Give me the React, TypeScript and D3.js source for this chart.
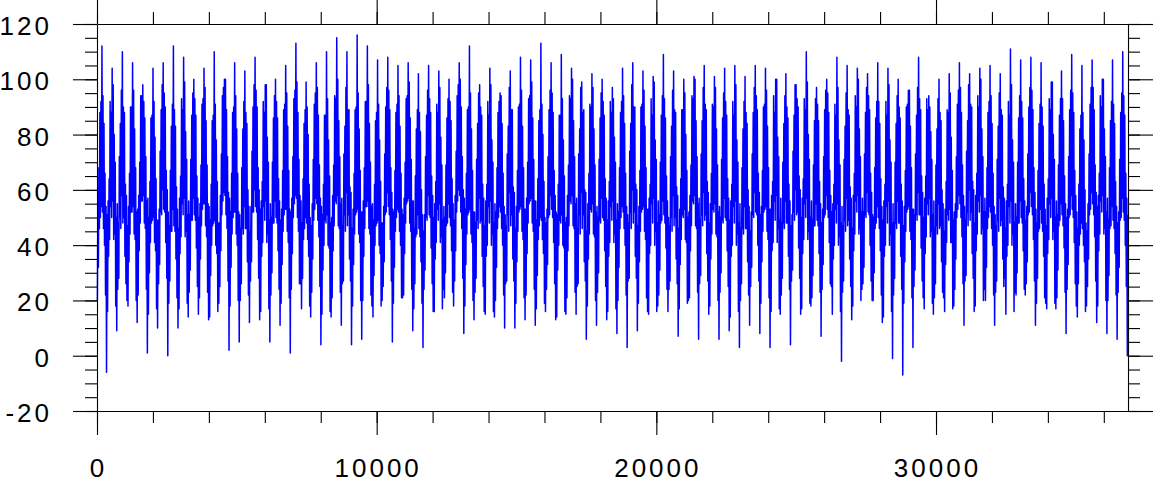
import React, { useEffect, useRef } from 'react';
import * as d3 from 'd3';

// 20 readings a year (day of year in the name), 101 years
const day13 = [20,16,24,18,22,15,26,19,17,23, 21,14,25,18,20,27,16,22,19,24, 17,23,15,21,26,18,20,14,25,19, 22,17,24,16,21,27,18,23,15,20, 26,19,22,17,24,14,21,25,18,23, 16,20,27,19,15,22,24,17,21,26, 18,23,14,20,25,19,16,22,27,17, 21,24,15,23,18,26,20,14,22,19, 25,17,21,16,24,27,18,20,23,15, 22,26,19,17,21,24,14,25,18,20, 23];
const day31 = [52,56,48,54,58,50,53,47,57,51, 55,49,58,52,46,54,56,50,53,57, 48,55,51,58,47,53,56,49,54,52, 57,46,51,55,50,58,53,48,56,52, 47,54,57,49,53,51,58,46,55,50, 56,52,48,54,57,51,47,53,58,49, 55,50,56,46,52,54,58,48,51,57, 49,53,55,47,58,52,50,56,48,54, 51,57,46,53,55,49,58,52,47,56, 50,54,48,57,51,53,46,55,58,49, 52];
const day50 = [32,36,28,34,38,30,33,27,37,31, 35,29,38,32,26,34,36,30,33,37, 28,35,31,38,27,33,36,29,34,32, 37,26,31,35,30,38,33,28,36,32, 27,34,37,29,33,31,38,26,35,30, 36,32,28,34,37,31,27,33,38,29, 35,30,36,26,32,34,38,28,31,37, 29,33,35,27,38,32,30,36,28,34, 31,37,26,33,35,29,38,32,27,36, 30,34,28,37,31,33,26,35,38,29, 32];
const day68 = [68,64,72,66,70,63,74,67,65,71, 69,62,73,66,68,74,63,70,67,72, 64,71,62,69,73,66,68,62,73,67, 70,65,72,63,69,74,66,71,62,68, 73,67,70,64,72,62,69,73,66,71, 63,68,74,67,62,70,72,64,69,73, 66,71,62,68,73,67,63,70,74,64, 69,72,62,71,66,73,68,62,70,67, 73,65,69,63,72,74,66,68,71,62, 70,73,67,64,69,72,62,73,66,68, 71];
const day86 = [46,42,50,44,48,41,52,45,43,49, 47,40,51,44,46,52,41,48,45,50, 42,49,40,47,51,44,46,40,51,45, 48,43,50,41,47,52,44,49,40,46, 51,45,48,42,50,40,47,51,44,49, 41,46,52,45,40,48,50,42,47,51, 44,49,40,46,51,45,41,48,52,42, 47,50,40,49,44,51,46,40,48,45, 51,43,47,41,50,52,44,46,49,40, 48,51,45,42,47,50,40,51,44,46, 49];
const day104 = [88,92,84,90,94,86,89,83,93,87, 91,85,94,88,82,90,92,86,89,93, 84,91,87,94,83,89,92,85,90,88, 93,82,87,91,86,94,89,84,92,88, 83,90,93,85,89,87,94,82,91,86, 92,88,84,90,93,87,83,89,94,85, 91,86,92,82,88,90,94,84,87,93, 85,89,91,83,94,88,86,92,84,90, 87,93,82,89,91,85,94,88,83,92, 86,90,84,93,87,89,82,91,94,85, 88];
const day122 = [50,54,46,52,56,48,51,45,55,49, 53,47,56,50,44,52,54,48,51,55, 46,53,49,56,45,51,54,47,52,50, 55,44,49,53,48,56,51,46,54,50, 45,52,55,47,51,49,56,44,53,48, 54,50,46,52,55,49,45,51,56,47, 53,48,54,44,50,52,56,46,49,55, 47,51,53,45,56,50,48,54,46,52, 49,55,44,51,53,47,56,50,45,54, 48,52,46,55,49,51,44,53,56,47, 50];
const day141 = [92,88,96,90,94,87,98,91,89,95, 93,87,97,90,92,98,88,94,91,96, 89,95,87,93,97,90,92,88,97,91, 94,89,96,88,93,98,90,95,87,92, 97,91,94,89,96,87,93,97,90,95, 88,92,98,91,87,94,96,89,93,97, 90,95,87,92,97,91,88,94,98,89, 93,96,87,95,90,97,92,87,94,91, 97,89,93,88,96,98,90,92,95,87, 94,97,91,89,93,96,87,97,90,92, 95];
const day159 = [54,50,58,52,56,49,60,53,51,57, 55,48,59,52,54,60,49,56,53,58, 50,57,48,55,59,52,54,48,59,53, 56,51,58,49,55,60,52,57,48,54, 59,53,56,50,58,48,55,59,52,57, 49,54,60,53,48,56,58,50,55,59, 52,57,48,54,59,53,49,56,60,50, 55,58,48,57,52,59,54,48,56,53, 59,51,55,49,58,60,52,54,57,48, 56,59,53,50,55,58,48,59,52,54, 57];
const peaks = [112,104,110,106,98,104,106,112,108,100, 104,110,100,106,103,108,98,100,105,113, 99,106,110,115,110,116,112,107,108,105, 106,102,105,103,100,106,112,98,104,95, 103,108,107,113,106,109,104,99,102,100, 97,104,106,103,101,109,103,100,101,105, 101,104,105,101,105,104,100,102,98,110, 97,100,108,105,104,102,106,104,100,96, 108,94,100,102,106,102,104,105,102,111, 107,108,106,99,103,109,105,107,100,107, 110];
const day195 = [52,56,48,54,58,50,53,47,57,51, 55,49,58,52,46,54,56,50,53,57, 48,55,51,58,47,53,56,49,54,52, 57,46,51,55,50,58,53,48,56,52, 47,54,57,49,53,51,58,46,55,50, 56,52,48,54,57,51,47,53,58,49, 55,50,56,46,52,54,58,48,51,57, 49,53,55,47,58,52,50,56,48,54, 51,57,46,53,55,49,58,52,47,56, 50,54,48,57,51,53,46,55,58,49, 52];
const day214 = [94,98,90,96,92,92,95,89,99,93, 97,91,100,94,88,96,98,92,95,99, 90,97,93,100,89,95,98,91,96,94, 99,88,93,97,92,100,95,90,98,94, 89,96,99,91,95,93,100,88,97,92, 93,94,90,96,99,93,89,95,100,91, 97,92,98,88,94,96,100,90,93,99, 91,95,97,89,100,94,92,98,90,96, 93,90,88,95,97,91,100,94,89,98, 92,96,90,99,93,95,88,97,100,91, 94];
const day232 = [46,42,50,44,48,41,52,45,43,49, 47,40,51,44,46,52,41,48,45,50, 42,49,40,47,51,44,46,40,51,45, 48,43,50,41,47,52,44,49,40,46, 51,45,48,42,50,40,47,51,44,49, 41,46,52,45,40,48,50,42,47,51, 44,49,40,46,51,45,41,48,52,42, 47,50,40,49,44,51,46,40,48,45, 51,43,47,41,50,52,44,46,49,40, 48,51,45,42,47,50,40,51,44,46, 49];
const day250 = [84,80,88,82,86,79,90,83,81,87, 85,78,89,82,84,90,79,86,83,88, 80,87,78,85,89,82,84,78,89,83, 86,81,88,79,85,90,82,87,78,84, 89,83,86,80,88,78,85,89,82,87, 79,84,90,83,78,86,88,80,85,89, 82,87,78,84,89,83,79,86,90,80, 85,88,78,87,82,89,84,78,86,83, 89,81,85,79,88,90,82,84,87,78, 86,89,83,80,85,88,78,89,82,84, 87];
const day268 = [40,44,36,42,46,38,41,35,45,39, 43,37,46,40,34,42,44,38,41,45, 36,43,39,46,35,41,44,37,42,40, 45,34,39,43,38,46,41,36,44,40, 35,42,45,37,41,39,46,34,43,38, 44,40,36,42,45,39,35,41,46,37, 43,38,44,34,40,42,46,36,39,45, 37,41,43,35,46,40,38,44,36,42, 39,45,34,41,43,37,46,40,35,44, 38,42,36,45,39,41,34,43,46,37, 40];
const day287 = [66,70,62,68,72,64,67,61,71,65, 69,63,72,66,60,68,70,64,67,71, 62,69,65,72,61,67,70,63,68,66, 71,60,65,69,64,72,67,62,70,66, 61,68,71,63,67,65,72,60,69,64, 70,66,62,68,71,65,61,67,72,63, 69,64,70,60,66,68,72,62,65,71, 63,67,69,61,72,66,64,70,62,68, 65,71,60,67,69,63,72,66,61,70, 64,68,62,71,65,67,60,69,72,63, 66];
const day305 = [22,18,26,20,24,17,28,21,19,25, 23,16,27,20,22,28,17,24,21,26, 18,25,16,23,27,20,22,18,27,21, 24,19,26,17,23,28,20,25,16,22, 27,21,24,19,26,16,23,27,20,25, 17,22,28,21,16,24,26,19,23,27, 20,25,16,22,27,21,17,24,28,19, 23,26,16,25,20,27,22,16,24,21, 27,19,23,17,26,28,20,22,25,16, 24,27,21,19,23,26,16,27,20,22, 25];
const day323 = [54,50,58,52,56,49,60,53,51,57, 55,48,59,52,54,60,49,56,53,58, 50,57,48,55,59,52,54,48,59,53, 56,51,58,49,55,60,52,57,48,54, 59,53,56,50,58,48,55,59,52,57, 49,54,60,53,48,56,58,50,55,59, 52,57,48,54,59,53,49,56,60,50, 55,58,48,57,52,59,54,48,56,53, 59,51,55,49,58,60,52,54,57,48, 56,59,53,50,55,58,48,59,52,54, 57];
const troughs = [-6,9,20,12,1,10,0,10,14,15, 13,19,2,5,12,13,5,11,1,26, 14,4,14,11,4,6,18,20,5,21, 9,3,16,24,18,8,13,16,14,10, 10,13,11,16,13,15,15,6,11,13, 8,3,9,16,18,16,7,20,6,15, 6,9,3,11,8,3,15,4,15,18, 7,25,-2,13,24,20,12,-1,-7,3, 21,15,21,18,11,16,24,11,28,23, 22,11,19,17,8,18,18,12,8,6, 0];
const day359 = [51,55,47,53,57,49,52,46,56,50, 54,48,57,51,45,53,55,49,52,56, 47,54,50,57,46,52,55,48,53,51, 56,45,50,54,49,57,52,47,55,51, 46,53,56,48,52,50,57,45,54,49, 55,51,47,53,56,50,46,52,57,48, 54,49,55,45,51,53,57,47,50,56, 48,52,54,46,57,51,49,55,47,53, 50,56,45,52,54,48,57,51,46,55, 49,53,47,56,50,52,45,54,57,48, 51];

const sampleDays = [13, 31, 50, 68, 86, 104, 122, 141, 159, 177, 195, 214, 232, 250, 268, 287, 305, 323, 341, 359];
const phases = [day13, day31, day50, day68, day86, day104, day122, day141, day159, peaks, day195, day214, day232, day250, day268, day287, day305, day323, troughs, day359];

const xLabels = [0, 10000, 20000, 30000];
const yLabels = [-20, 0, 20, 40, 60, 80, 100, 120];

function App() {
  const svgRef = useRef(null);

  useEffect(() => {
    const svg = d3.select(svgRef.current);
    svg.selectAll('*').remove();

    const left = 97, right = 1128, top = 24, bottom = 411;
    const x = d3.scaleLinear().domain([0, 36865]).range([left, right]);
    const y = d3.scaleLinear().domain([-20, 120]).range([bottom, top]);

    const years = d3.min(phases, (a) => a.length);
    const series = d3.range(years).flatMap((k) =>
      phases.map((arr, j) => ({ day: 365 * k + sampleDays[j], value: arr[k] }))
    );

    const line = d3.line().x((d) => x(d.day)).y((d) => y(d.value));
    svg.append('path')
      .datum(series)
      .attr('fill', 'none')
      .attr('stroke', '#0000ff')
      .attr('stroke-width', 1.5)
      .attr('stroke-linejoin', 'round')
      .attr('d', line);

    const xMinor = d3.range(0, 36865, 2000);
    const yMinor = d3.range(-20, 121, 5);

    const drawAxis = (axisFn, scale, pos, major, minor, majorLen) => {
      const gMinor = svg.append('g').attr('transform', pos)
        .call(axisFn(scale).tickValues(minor).tickSize(12).tickSizeOuter(0).tickFormat(() => ''));
      gMinor.select('.domain').remove();
      svg.append('g').attr('transform', pos)
        .call(axisFn(scale).tickValues(major).tickSize(majorLen).tickSizeOuter(0).tickFormat(() => ''));
      svg.selectAll('path.domain, .tick line').attr('stroke', '#000').attr('stroke-width', 1.1);
    };

    drawAxis(d3.axisBottom, x, `translate(0,${bottom})`, xLabels, xMinor, 24);
    drawAxis(d3.axisTop, x, `translate(0,${top})`, xLabels, xMinor, 24);
    drawAxis(d3.axisLeft, y, `translate(${left},0)`, yLabels, yMinor, 24);
    drawAxis(d3.axisRight, y, `translate(${right},0)`, yLabels, yMinor, 25);

    const font = '"Liberation Sans", Arial, Helvetica, sans-serif';
    svg.append('g')
      .selectAll('text')
      .data(xLabels)
      .join('text')
      .attr('x', (d) => x(d) + 1.5)
      .attr('y', 477)
      .attr('text-anchor', 'middle')
      .attr('font-family', font)
      .attr('font-size', 26)
      .attr('letter-spacing', 3)
      .text((d) => d);

    svg.append('g')
      .selectAll('text')
      .data(yLabels)
      .join('text')
      .attr('x', 52)
      .attr('y', (d) => y(d) + 11)
      .attr('text-anchor', 'end')
      .attr('font-family', font)
      .attr('font-size', 26)
      .attr('letter-spacing', 3)
      .text((d) => d);
  }, []);

  return (
    <svg
      ref={svgRef}
      width={1153}
      height={483}
      style={{ position: 'absolute', left: 0, top: 0, background: '#fff' }}
    />
  );
}

export default App;
